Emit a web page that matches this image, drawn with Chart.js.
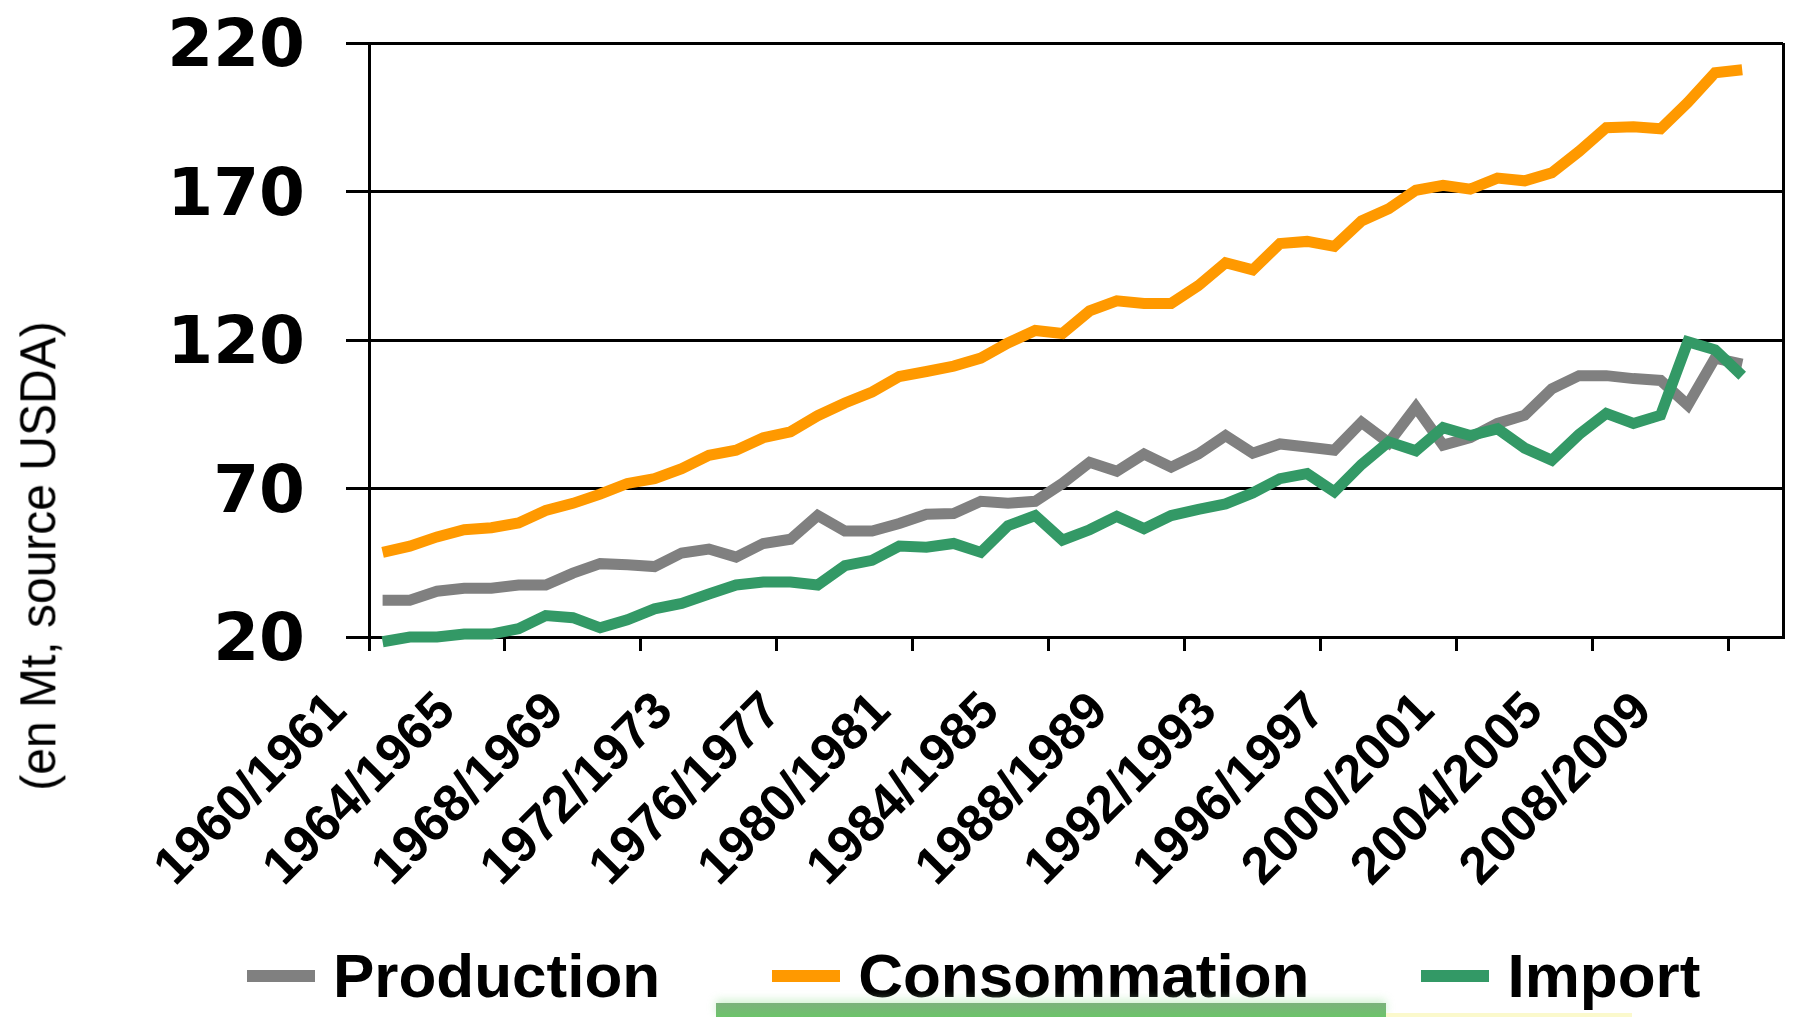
<!DOCTYPE html>
<html>
<head>
<meta charset="utf-8">
<script src="https://cdn.jsdelivr.net/npm/chart.js@4.4.1/dist/chart.umd.min.js"></script>
<style>
  body { margin: 0; background: #fff; }
  #wrap { position: relative; width: 1798px; height: 1017px; overflow: hidden; }
  #titreY {
    position: absolute; left: 38px; top: 556px;
    font: 48px "Liberation Sans", Arial, sans-serif; color: #000; white-space: nowrap;
    transform: translate(-50%, -50%) rotate(-90deg) scaleY(1.04);
  }
  #legende {
    position: absolute; left: 247px; top: 945px; height: 62px;
    display: flex; align-items: center; gap: 112px;
    font: bold 62px/62px "Liberation Sans", Arial, sans-serif; color: #000; white-space: nowrap;
  }
  #legende .item { display: flex; align-items: center; gap: 18px; }
  #legende .case { width: 68px; height: 12px; }
  #barre {
    position: absolute; left: 716px; top: 1003px; width: 670px; height: 14px;
    background: linear-gradient(#7cb27c, #6cc46a);
    box-shadow: 0 -3px 8px rgba(190, 235, 190, 0.7);
  }
  #trait { position: absolute; left: 1386px; top: 1013px; width: 246px; height: 4px; background: #fbf9cc; }
</style>
</head>
<body>
<div id="wrap">
  <canvas id="grafica"></canvas>
  <div id="titreY">(en Mt, source USDA)</div>
  <div id="legende"></div>
  <div id="barre"></div>
  <div id="trait"></div>
</div>
<script>
const campagnes = ['1960/1961', '1961/1962', '1962/1963', '1963/1964', '1964/1965', '1965/1966', '1966/1967', '1967/1968',
  '1968/1969', '1969/1970', '1970/1971', '1971/1972', '1972/1973', '1973/1974', '1974/1975', '1975/1976',
  '1976/1977', '1977/1978', '1978/1979', '1979/1980', '1980/1981', '1981/1982', '1982/1983', '1983/1984',
  '1984/1985', '1985/1986', '1986/1987', '1987/1988', '1988/1989', '1989/1990', '1990/1991', '1991/1992',
  '1992/1993', '1993/1994', '1994/1995', '1995/1996', '1996/1997', '1997/1998', '1998/1999', '1999/2000',
  '2000/2001', '2001/2002', '2002/2003', '2003/2004', '2004/2005', '2005/2006', '2006/2007', '2007/2008',
  '2008/2009', '2009/2010', '2010/2011', '2011/2012'];

const production = [32.4, 32.4, 35.4, 36.4, 36.4, 37.5, 37.5, 41.5, 44.7, 44.3,
  43.7, 48.3, 49.6, 46.9, 51.5, 52.9, 60.9, 55.7, 55.7, 58.2,
  61.3, 61.6, 65.7, 65.0, 65.7, 71.7, 78.8, 75.8, 81.6, 77.2,
  81.6, 87.8, 81.9, 85.0, 84.0, 82.9, 92.3, 85.4, 97.4, 84.6,
  87.1, 91.9, 94.7, 103.6, 108.0, 108.0, 107.0, 106.4, 98.1, 113.9,
  111.9];

const consommation = [48.5, 50.6, 53.7, 56.1, 56.8, 58.4, 62.6, 65.0, 68.1, 71.7,
  73.3, 76.7, 81.2, 82.9, 87.1, 89.1, 94.5, 98.8, 102.5, 107.7,
  109.4, 111.2, 113.9, 119.0, 123.2, 122.2, 129.8, 133.2, 132.3, 132.3,
  138.3, 146.0, 143.6, 152.5, 153.2, 151.5, 160.1, 164.2, 170.4, 172.1,
  170.8, 174.5, 173.6, 176.3, 183.5, 191.5, 191.8, 191.1, 200.0, 210.0,
  211.0];

const importations = [18.4, 20.0, 20.0, 21.0, 21.0, 22.8, 27.2, 26.5, 23.1, 25.8,
  29.5, 31.3, 34.5, 37.5, 38.5, 38.5, 37.5, 44.0, 45.8, 50.6,
  50.2, 51.5, 48.5, 57.5, 60.9, 52.6, 56.1, 60.6, 56.5, 60.9,
  63.0, 64.8, 68.5, 73.3, 75.0, 68.9, 78.1, 85.7, 82.7, 90.5,
  87.8, 90.1, 83.6, 79.5, 88.2, 95.3, 91.9, 94.7, 119.4, 116.7,
  108.0];

const yTicks = [20, 70, 120, 170, 220];

const police = '"Liberation Sans", Arial, sans-serif';
const noir = '#000000';
const transparent = 'rgba(0,0,0,0)';

function serie(label, data, color, order) {
  return {
    label: label,
    data: data,
    borderColor: color,
    backgroundColor: color,
    borderWidth: 11,
    borderCapStyle: 'butt',
    pointRadius: 0,
    pointHoverRadius: 0,
    tension: 0,
    fill: false,
    clip: false,
    order: order
  };
}

// legende en HTML, construite depuis les datasets
const legendeHtml = {
  id: 'legendeHtml',
  afterUpdate(chart) {
    const box = document.querySelector('#legende');
    box.innerHTML = '';
    chart.data.datasets.forEach(ds => {
      const item = document.createElement('div');
      item.className = 'item';
      const c = document.createElement('span');
      c.className = 'case';
      c.style.background = ds.borderColor;
      const t = document.createElement('span');
      t.textContent = ds.label;
      item.appendChild(c);
      item.appendChild(t);
      box.appendChild(item);
    });
  }
};

const data = {
  labels: campagnes,
  datasets: [
    serie('Production', production, '#808080', 3),
    serie('Consommation', consommation, '#ff9900', 2),
    serie('Import', importations, '#339966', 1)
  ]
};

const config = {
  type: 'line',
  data: data,
  plugins: [legendeHtml],
  options: {
    responsive: true,
    maintainAspectRatio: false,
    animation: false,
    layout: { padding: { left: 0, right: 15, top: 43, bottom: 0 } },
    plugins: {
      tooltip: { enabled: false },
      legend: { display: false }
    },
    scales: {
      x: {
        type: 'category',
        offset: true,
        afterFit: scale => {
          scale.height = 380;
          scale.paddingLeft = 0;
          scale.paddingRight = 0;
        },
        grid: {
          offset: true,
          drawOnChartArea: true,
          drawTicks: true,
          tickLength: 14,
          lineWidth: 3,
          color: ctx => ctx.index === undefined ? noir : transparent,
          tickColor: ctx => (ctx.index !== undefined && ctx.index % 5 === 0) ? noir : transparent
        },
        border: { display: true, color: noir, width: 3 },
        ticks: {
          autoSkip: false,
          minRotation: 45,
          maxRotation: 45,
          padding: 30,
          labelOffset: -44,
          color: noir,
          font: { family: police, size: 52, weight: 'bold' },
          callback: (v, i) => i % 4 === 0 ? campagnes[i] : ''
        }
      },
      y: {
        min: yTicks[0],
        max: yTicks[yTicks.length - 1],
        afterFit: scale => {
          scale.width = 369;
          scale.paddingTop = 0;
          scale.paddingBottom = 0;
        },
        afterBuildTicks: scale => { scale.ticks = yTicks.map(v => ({ value: v })); },
        grid: {
          color: noir,
          lineWidth: 3,
          drawTicks: true,
          tickLength: 23
        },
        border: { display: true, color: noir, width: 3 },
        ticks: {
          padding: 41,
          labelOffset: 6,
          color: noir,
          font: { family: '"DejaVu Sans", sans-serif', size: 66, weight: 'bold' }
        }
      }
    }
  }
};

const graph = document.querySelector('#grafica');
new Chart(graph, config);
</script>
</body>
</html>
